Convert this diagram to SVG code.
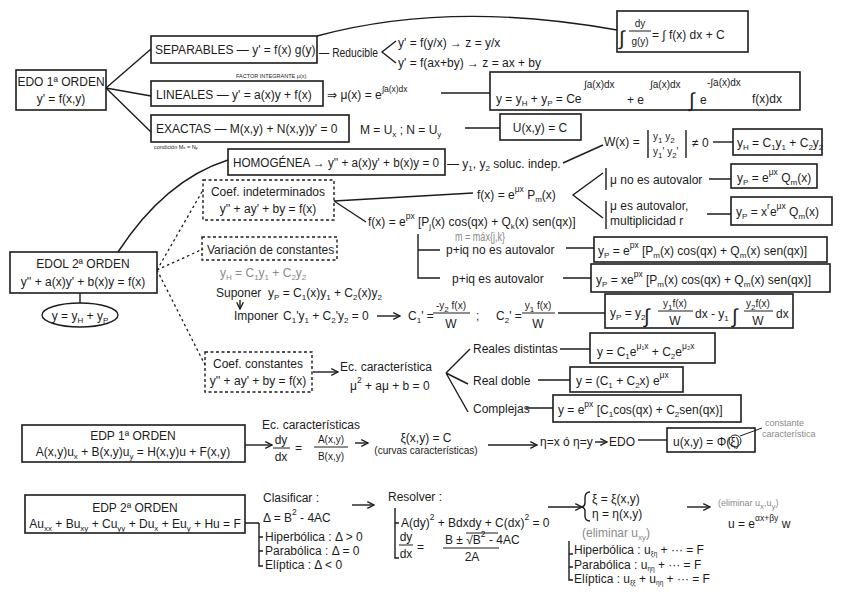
<svg xmlns="http://www.w3.org/2000/svg" width="848" height="599" viewBox="0 0 848 599">
<defs>
<style>
text{font-family:"Liberation Sans","DejaVu Sans",sans-serif;font-size:12px;fill:#1c1c1c}
.m{text-anchor:middle}
.sm{font-size:10px}
.xs{font-size:9px}
.tiny{font-size:5.5px}
.g{fill:#8a8a8a}
.big{font-size:20px}
.sb{font-size:8px;baseline-shift:-3px}
.sb2{font-size:6.5px;baseline-shift:-2px}
.sp{font-size:8.5px;baseline-shift:7px}
.box{fill:none;stroke:#1c1c1c;stroke-width:1.6}
.dbox{fill:none;stroke:#1c1c1c;stroke-width:1.4;stroke-dasharray:3 2.5}
.ln{fill:none;stroke:#1c1c1c;stroke-width:1.4}
.dl{fill:none;stroke:#1c1c1c;stroke-width:1.3;stroke-dasharray:2.5 3}
.thin{fill:none;stroke:#1c1c1c;stroke-width:1}
</style>
<marker id="ah" viewBox="0 0 10 10" refX="9" refY="5" markerWidth="6" markerHeight="6" orient="auto"><path d="M1,1 L9,5 L1,9" fill="none" stroke="#1c1c1c" stroke-width="1.6"/></marker>
</defs>
<rect width="848" height="599" fill="#fff"/>

<g id="connectors">
<path class="ln" d="M106,88 L151,49 M106,88 L151,96 M106,88 L151,132"/>
<path class="ln" d="M317,36 Q450,0 617,30"/>
<path class="ln" d="M396,41 L382,52 L396,63"/>
<path class="ln" d="M441,93 H490"/>
<path class="ln" d="M465,128 H500"/>
<path class="ln" d="M563,163 L603,145"/>
<path class="ln" d="M713,142 H733"/>
<path class="ln" d="M118,252 Q165,180 228,160"/>
<path class="ln" d="M80,293 V303"/>
<path class="dl" d="M157,270 L203,190 M157,270 L203,249 M157,270 L205,365"/>
<path class="ln" d="M334,201 L473,193 M334,201 L366,222"/>
<path class="ln" d="M603,173 L573,195 L603,218 M606,168 V190 M606,201 V229"/>
<path class="ln" d="M709,179 H731 M707,214 H731"/>
<path class="ln" d="M418,234 V278 H440 M418,250 H440"/>
<path class="ln" d="M566,248 H594 M563,278 H591"/>
<path class="ln" d="M240,300 V309" marker-end="url(#ah)"/>
<path class="ln" d="M377,316 H400" marker-end="url(#ah)"/>
<path class="ln" d="M558,313 H605"/>
<path class="ln" d="M313,372 H338" marker-end="url(#ah)"/>
<path class="ln" d="M446,373 L470,349 M446,373 L468,384 M446,373 L468,412"/>
<path class="ln" d="M560,349 H590 M538,380 H570 M526,408 H553"/>
<path class="ln" d="M245,445 H272" marker-end="url(#ah)"/>
<path class="ln" d="M355,443 H368" marker-end="url(#ah)"/>
<path class="ln" d="M488,445 H537" marker-end="url(#ah)"/>
<path class="ln" d="M595,442 H607" marker-end="url(#ah)"/>
<path class="ln" d="M638,440 H667"/>
<path class="thin" d="M740,436 L762,428" stroke="#777"/>
<path class="ln" d="M245,523 H259 M259,523 V566 H263 M259,537 H263 M259,551 H263"/>
<path class="ln" d="M352,505 H374" marker-end="url(#ah)"/>
<path class="ln" d="M395,508 V558 H399 M395,523 H399"/>
<path class="ln" d="M548,507 H582" marker-end="url(#ah)"/>
<path class="ln" d="M687,507 H710" marker-end="url(#ah)"/>
<path class="ln" d="M569,541 V580 H573 M569,554 H573 M569,567 H573"/>
</g>

<g id="edo1">
<rect class="box" x="16" y="70" width="90" height="40"/>
<text class="m" x="61" y="86">EDO 1ª ORDEN</text>
<text class="m" x="61" y="103">y' = f(x,y)</text>
</g>

<g id="separables">
<rect class="box" x="151" y="36" width="166" height="27"/>
<text x="155" y="54">SEPARABLES — y' = f(x) g(y)</text>
</g>

<g id="reducible">
<text x="319" y="57" textLength="59" lengthAdjust="spacingAndGlyphs">— Reducible</text>
<text x="398" y="47">y' = f(y/x)  →  z = y/x</text>
<text x="398" y="67">y' = f(ax+by) →  z = ax + by</text>
</g>

<g id="sep-sol">
<rect class="box" x="617" y="11" width="131" height="41"/>
<text class="big" x="619" y="45">∫</text>
<text class="m sm" x="640" y="27">dy</text>
<path class="thin" d="M629,31 H651"/>
<text class="m sm" x="640" y="45">g(y)</text>
<text x="652" y="39">= ∫ f(x) dx + C</text>
</g>

<g id="lineales">
<rect class="box" x="151" y="81" width="172" height="25"/>
<text x="156" y="99">LINEALES — y' = a(x)y + f(x)</text>
<text class="tiny" x="236" y="78">FACTOR INTEGRANTE μ(x)</text>
<text x="327" y="99">⇒ μ(x) = e<tspan class="sp" font-size="9">∫a(x)dx</tspan></text>
</g>

<g id="lin-sol">
<rect class="box" x="490" y="72" width="310" height="38"/>
<text x="496" y="103">y = y<tspan class="sb">H</tspan> + y<tspan class="sb">P</tspan> = Ce</text>
<text class="sm" x="584" y="88">∫a(x)dx</text>
<text x="627" y="104">+ e</text>
<text class="sm" x="650" y="88">∫a(x)dx</text>
<text class="big" x="689" y="107">∫</text>
<text x="700" y="104">e</text>
<text class="sm" x="707" y="86">-∫a(x)dx</text>
<text x="752" y="103">f(x)dx</text>
</g>

<g id="exactas">
<rect class="box" x="151" y="115" width="198" height="27"/>
<text x="156" y="133">EXACTAS — M(x,y) + N(x,y)y' = 0</text>
<text class="tiny" x="154" y="149">condición M<tspan font-size="4">x</tspan> = N<tspan font-size="4">y</tspan></text>
<text x="360" y="134" font-size="13">M = U<tspan class="sb">x</tspan> ; N = U<tspan class="sb">y</tspan></text>
</g>

<g id="exactas-sol">
<rect class="box" x="500" y="114" width="81" height="26"/>
<text class="m" x="540" y="132">U(x,y) = C</text>
</g>

<g id="wronskiano">
<text x="604" y="146">W(x) =</text>
<path class="ln" d="M648,130 V158 M686,130 V158"/>
<text class="sm" x="653" y="140">y<tspan class="sb">1</tspan>   y<tspan class="sb">2</tspan></text>
<text class="sm" x="653" y="155">y<tspan class="sb">1</tspan>'  y<tspan class="sb">2</tspan>'</text>
<text x="692" y="147">≠ 0</text>
</g>

<g id="yh-sol">
<rect class="box" x="733" y="129" width="89" height="26"/>
<text x="737" y="147" font-size="10.5">y<tspan class="sb">H</tspan> = C<tspan class="sb">1</tspan>y<tspan class="sb">1</tspan> + C<tspan class="sb">2</tspan>y<tspan class="sb">2</tspan></text>
</g>

<g id="homogenea">
<rect class="box" x="228" y="149" width="217" height="26"/>
<text x="233" y="167" textLength="206" lengthAdjust="spacingAndGlyphs">HOMOGÉNEA → y'' + a(x)y' + b(x)y = 0</text>
<text x="447" y="168">— y<tspan class="sb">1</tspan>, y<tspan class="sb">2</tspan> soluc. indep.</text>
</g>

<g id="edol2">
<rect class="box" x="10" y="252" width="147" height="41"/>
<text class="m" x="83" y="268">EDOL 2ª ORDEN</text>
<text class="m" x="83" y="286">y'' + a(x)y' + b(x)y = f(x)</text>
<ellipse class="ln" cx="80" cy="315" rx="38" ry="12"/>
<text class="m" x="80" y="320">y = y<tspan class="sb">H</tspan> + y<tspan class="sb">P</tspan></text>
</g>

<g id="coef-indet">
<rect class="dbox" x="203" y="180" width="131" height="40"/>
<text class="m" x="268" y="196">Coef. indeterminados</text>
<text class="m" x="268" y="213">y'' + ay' + by = f(x)</text>
</g>

<g id="f-mu">
<text x="477" y="199">f(x) = e<tspan class="sp">μx</tspan> P<tspan class="sb">m</tspan>(x)</text>
<text x="610" y="184">μ no es autovalor</text>
<text x="610" y="210">μ es autovalor,</text>
<text x="610" y="225">multiplicidad r</text>
</g>

<g id="yp-mu1">
<rect class="box" x="731" y="164" width="86" height="24"/>
<text x="737" y="182">y<tspan class="sb">P</tspan> = e<tspan class="sp">μx</tspan> Q<tspan class="sb">m</tspan>(x)</text>
</g>

<g id="yp-mu2">
<rect class="box" x="731" y="197" width="101" height="28"/>
<text x="736" y="216">y<tspan class="sb">P</tspan> = x<tspan class="sp">r</tspan>e<tspan class="sp">μx</tspan> Q<tspan class="sb">m</tspan>(x)</text>
</g>

<g id="f-pq">
<text x="368" y="226">f(x) = e<tspan class="sp">px</tspan> [P<tspan class="sb">j</tspan>(x) cos(qx) + Q<tspan class="sb">k</tspan>(x) sen(qx)]</text>
<text class="g" x="455" y="241" font-size="6.5" textLength="50" lengthAdjust="spacingAndGlyphs">m = máx{j,k}</text>
<text x="446" y="254">p+iq no es autovalor</text>
<text x="452" y="283">p+iq es autovalor</text>
</g>

<g id="yp-pq1">
<rect class="box" x="594" y="237" width="233" height="25"/>
<text x="598" y="255">y<tspan class="sb">P</tspan> = e<tspan class="sp">px</tspan> [P<tspan class="sb">m</tspan>(x) cos(qx) + Q<tspan class="sb">m</tspan>(x) sen(qx)]</text>
</g>

<g id="yp-pq2">
<rect class="box" x="591" y="264" width="239" height="28"/>
<text x="596" y="284">y<tspan class="sb">P</tspan> = xe<tspan class="sp">px</tspan> [P<tspan class="sb">m</tspan>(x) cos(qx) + Q<tspan class="sb">m</tspan>(x) sen(qx)]</text>
</g>

<g id="variacion">
<rect class="dbox" x="202" y="237" width="135" height="23"/>
<text x="207" y="254">Variación de constantes</text>
<text class="g" x="220" y="277" font-size="11">y<tspan class="sb">H</tspan> = C<tspan class="sb">1</tspan>y<tspan class="sb">1</tspan> + C<tspan class="sb">2</tspan>y<tspan class="sb">2</tspan></text>
<text x="216" y="297">Suponer</text>
<text x="268" y="297">y<tspan class="sb">P</tspan> = C<tspan class="sb">1</tspan>(x)y<tspan class="sb">1</tspan> + C<tspan class="sb">2</tspan>(x)y<tspan class="sb">2</tspan></text>
<text x="234" y="320">Imponer</text>
<text x="283" y="320">C<tspan class="sb">1</tspan>'y<tspan class="sb">1</tspan> + C<tspan class="sb">2</tspan>'y<tspan class="sb">2</tspan> = 0</text>
<text x="408" y="320">C<tspan class="sb">1</tspan>' =</text>
<text class="m sm" x="451" y="309">-y<tspan class="sb">2</tspan> f(x)</text>
<path class="thin" d="M433,313 H470"/>
<text class="m" x="451" y="328">W</text>
<text x="476" y="320">;</text>
<text x="496" y="320">C<tspan class="sb">2</tspan>' =</text>
<text class="m sm" x="538" y="309">y<tspan class="sb">1</tspan> f(x)</text>
<path class="thin" d="M522,313 H555"/>
<text class="m" x="538" y="328">W</text>
</g>

<g id="yp-var">
<rect class="box" x="605" y="294" width="188" height="34"/>
<text x="610" y="317">y<tspan class="sb">P</tspan> = y<tspan class="sb">2</tspan></text>
<text class="big" x="644" y="323">∫</text>
<text class="m sm" x="675" y="307">y<tspan class="sb">1</tspan>f(x)</text>
<path class="thin" d="M658,311 H693"/>
<text class="m" x="675" y="325">W</text>
<text x="695" y="318">dx - y<tspan class="sb">1</tspan></text>
<text class="big" x="732" y="323">∫</text>
<text class="m sm" x="758" y="307">y<tspan class="sb">2</tspan>f(x)</text>
<path class="thin" d="M744,311 H773"/>
<text class="m" x="758" y="325">W</text>
<text x="776" y="318">dx</text>
</g>

<g id="coef-const">
<rect class="dbox" x="205" y="352" width="107" height="40"/>
<text class="m" x="258" y="368">Coef. constantes</text>
<text class="m" x="258" y="385">y'' + ay' + by = f(x)</text>
<text x="340" y="371" font-size="11.5">Ec. característica</text>
<text x="350" y="390" font-size="11.5">μ<tspan class="sp" font-size="7.5">2</tspan> + aμ + b = 0</text>
<text x="473" y="353">Reales distintas</text>
<text x="473" y="385">Real doble</text>
<text x="473" y="413">Complejas</text>
</g>

<g id="sol-reales">
<rect class="box" x="590" y="333" width="125" height="30"/>
<text x="597" y="356">y = C<tspan class="sb">1</tspan>e<tspan class="sp">μ₁x</tspan> + C<tspan class="sb">2</tspan>e<tspan class="sp">μ₂x</tspan></text>
</g>

<g id="sol-doble">
<rect class="box" x="570" y="367" width="113" height="25"/>
<text x="576" y="385">y = (C<tspan class="sb">1</tspan> + C<tspan class="sb">2</tspan>x) e<tspan class="sp">μx</tspan></text>
</g>

<g id="sol-complejas">
<rect class="box" x="553" y="395" width="188" height="27"/>
<text x="558" y="414">y = e<tspan class="sp">px</tspan> [C<tspan class="sb">1</tspan>cos(qx) + C<tspan class="sb">2</tspan>sen(qx)]</text>
</g>

<g id="edp1">
<rect class="box" x="22" y="425" width="223" height="37"/>
<text class="m" x="133" y="440">EDP 1ª ORDEN</text>
<text class="m" x="133" y="456">A(x,y)u<tspan class="sb">x</tspan> + B(x,y)u<tspan class="sb">y</tspan> = H(x,y)u + F(x,y)</text>
</g>

<g id="edp1-car">
<text x="262" y="429" font-size="10.5">Ec. características</text>
<text class="m" x="281" y="444">dy</text>
<path class="thin" d="M273,448 H290"/>
<text class="m" x="281" y="461">dx</text>
<text x="295" y="452">=</text>
<text class="m sm" x="331" y="443">A(x,y)</text>
<path class="thin" d="M314,447 H348"/>
<text class="m sm" x="331" y="460">B(x,y)</text>
<text class="m" x="426" y="442">ξ(x,y) = C</text>
<text class="m sm" x="426" y="454">(curvas características)</text>
<text x="540" y="446" font-size="11">η=x ó η=y</text>
<text x="609" y="446" font-size="11.5">EDO</text>
</g>

<g id="edp1-sol">
<rect class="box" x="667" y="428" width="88" height="24"/>
<text x="673" y="446">u(x,y) = Φ(ξ)</text>
<circle class="thin" cx="735" cy="441" r="6"/>
<text class="g xs" x="765" y="426">constante</text>
<text class="g xs" x="762" y="437">característica</text>
</g>

<g id="edp2">
<rect class="box" x="25" y="495" width="220" height="38"/>
<text class="m" x="135" y="512">EDP 2ª ORDEN</text>
<text class="m" x="135" y="528" font-size="11.5">Au<tspan class="sb">xx</tspan> + Bu<tspan class="sb">xy</tspan> + Cu<tspan class="sb">yy</tspan> + Du<tspan class="sb">x</tspan> + Eu<tspan class="sb">y</tspan> + Hu = F</text>
</g>

<g id="clasificar">
<text x="263" y="502">Clasificar :</text>
<text x="263" y="522">Δ = B<tspan class="sp">2</tspan> - 4AC</text>
<text x="265" y="541" font-size="11.5">Hiperbólica : Δ &gt; 0</text>
<text x="265" y="555" font-size="11.5">Parabólica : Δ = 0</text>
<text x="265" y="569" font-size="11.5">Elíptica : Δ &lt; 0</text>
</g>

<g id="resolver">
<text x="388" y="501">Resolver :</text>
<text x="401" y="527">A(dy)<tspan class="sp">2</tspan> + Bdxdy + C(dx)<tspan class="sp">2</tspan> = 0</text>
<text class="m" x="406" y="541">dy</text>
<path class="thin" d="M399,545 H413"/>
<text class="m" x="406" y="558">dx</text>
<text x="417" y="551">=</text>
<text x="445" y="544" font-size="11">B ± √B<tspan class="sp">2</tspan> - 4AC</text>
<path class="thin" d="M466,533 H498"/>
<path class="thin" d="M443,548 H499"/>
<text class="m" x="472" y="561" font-size="11">2A</text>
</g>

<g id="cambio">
<path class="ln" d="M590,492 Q585,492 585,498 V503 Q585,506 582,507 Q585,508 585,511 V516 Q585,521 590,521"/>
<text x="592" y="503">ξ = ξ(x,y)</text>
<text x="592" y="518">η = η(x,y)</text>
<text class="g" x="582" y="537" font-size="11">(eliminar u<tspan class="sb">xy</tspan>)</text>
<text x="574" y="554" font-size="11">Hiperbólica : u<tspan class="sb2">ξη</tspan> + ··· = F</text>
<text x="574" y="568.5" font-size="11">Parabólica : u<tspan class="sb2">ηη</tspan> + ··· = F</text>
<text x="574" y="583" font-size="11">Elíptica : u<tspan class="sb2">ξξ</tspan> + u<tspan class="sb2">ηη</tspan> + ··· = F</text>
</g>

<g id="final">
<text class="g xs" x="718" y="506">(eliminar u<tspan class="sb" font-size="7">x</tspan>,u<tspan class="sb" font-size="7">y</tspan>)</text>
<text x="728" y="528">u = e<tspan class="sp">αx+βy</tspan> w</text>
</g>
</svg>
